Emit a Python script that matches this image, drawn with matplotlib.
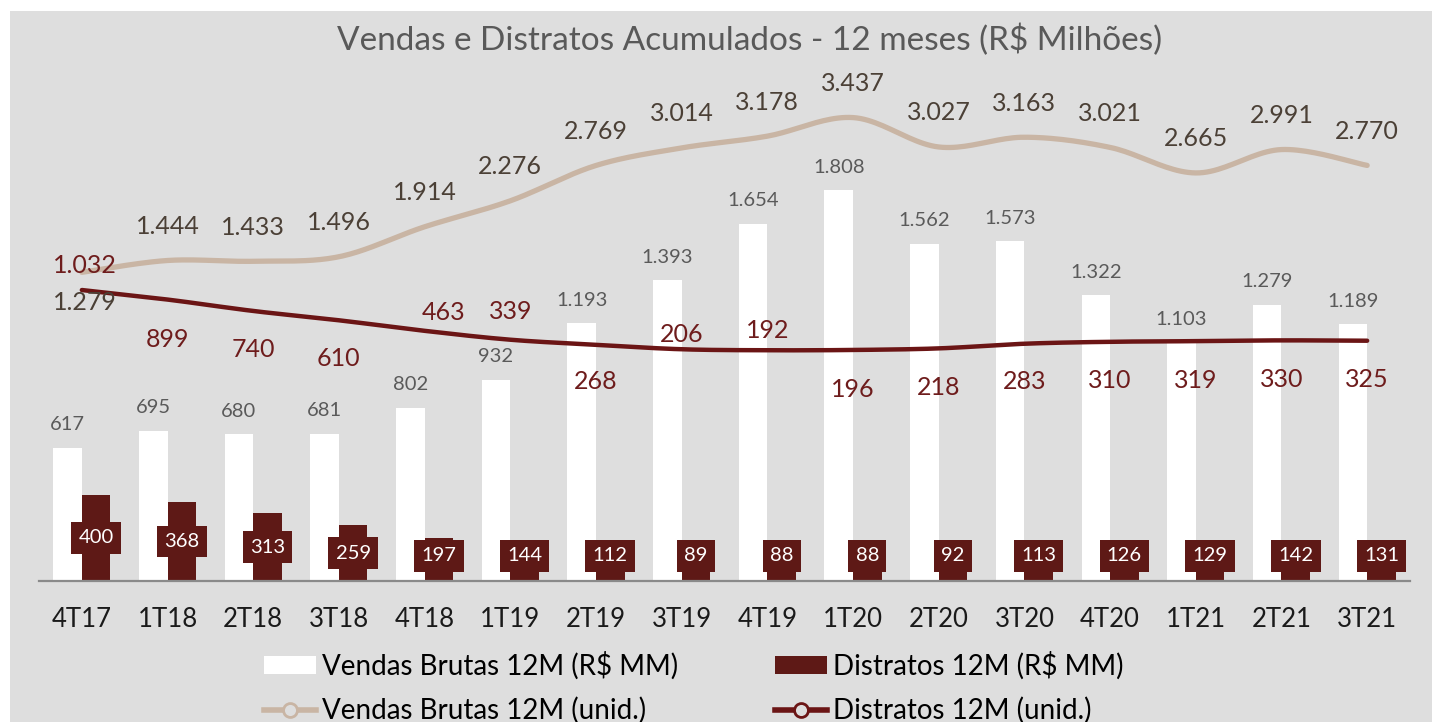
import matplotlib
matplotlib.use('Agg')
import matplotlib.pyplot as plt
import numpy as np
from matplotlib.patches import Rectangle, Patch
from matplotlib.lines import Line2D

# ---------------- data ----------------
categories = ['4T17', '1T18', '2T18', '3T18', '4T18', '1T19', '2T19', '3T19',
              '4T19', '1T20', '2T20', '3T20', '4T20', '1T21', '2T21', '3T21']
vendas_mm = [617, 695, 680, 681, 802, 932, 1193, 1393, 1654, 1808, 1562, 1573, 1322, 1103, 1279, 1189]
distratos_mm = [400, 368, 313, 259, 197, 144, 112, 89, 88, 88, 92, 113, 126, 129, 142, 131]
vendas_un = [1279, 1444, 1433, 1496, 1914, 2276, 2769, 3014, 3178, 3437, 3027, 3163, 3021, 2665, 2991, 2770]
distratos_un = [1032, 899, 740, 610, 463, 339, 268, 206, 192, 196, 218, 283, 310, 319, 330, 325]

# label placement (pixel offsets from the line points)
vend_lbl_dy = [-30] + [34] * 15
vend_lbl_dx = [3] + [0] * 15
dist_lbl_dy = [25, -40, -39, -38, 18, 28, -37, 15, 20, -40, -39, -38, -39, -39, -39, -39]
dist_lbl_dx = [3, 0, 0, 0, 19, 0, 0, 0, 0, 0, 0, 0, 0, 0, 0, 0]

# ---------------- style ----------------
FONT = 'Lato'
plt.rcParams['font.family'] = [FONT, 'DejaVu Sans']
BG = '#dedede'
WHITE = '#ffffff'
DARK = '#5e1916'
BEIGE = '#c9b5a4'
DLINE = '#6b1515'
VLBL = '#4b4036'
DLBL = '#6e1c1c'
BARLBL = '#5a5a5a'
TITLE = '#595959'

W, H = 1432, 722
fig = plt.figure(figsize=(W / 100, H / 100), dpi=100, facecolor='white')
fig.add_artist(Rectangle((10 / W, 0), 1, (H - 11) / H, transform=fig.transFigure,
                         facecolor=BG, edgecolor='none', zorder=-10))

ax = fig.add_axes([39 / W, 141 / H, 1371 / W, 521 / H])
ax.patch.set_visible(False)
ax2 = ax.twinx()
ax2.patch.set_visible(False)

x = np.arange(len(categories))
bw = 0.333
ax.bar(x - bw / 2, vendas_mm, width=bw, color=WHITE, zorder=2)
ax.bar(x + bw / 2, distratos_mm, width=bw, color=DARK, zorder=2)
ax.set_xlim(-0.5, len(categories) - 0.5)
ax.set_ylim(0, 2412)
ax2.set_ylim(-3026, 4240)

for a in (ax, ax2):
    for s in ['top', 'left', 'right']:
        a.spines[s].set_visible(False)
    a.set_yticks([])
ax2.spines['bottom'].set_visible(False)
ax.spines['bottom'].set_color('#8a8a8a')
ax.spines['bottom'].set_linewidth(1.6)
ax.set_xticks(x)
ax.set_xticklabels(categories, fontsize=18.5, color='#1a1a1a')
ax.tick_params(axis='x', length=0, pad=19)


def fmt(v):
    return f"{v:,}".replace(',', '.')


# white bar labels
for xi, v in zip(x, vendas_mm):
    ax.annotate(fmt(v), (xi - bw / 2, v), xytext=(0, 23), textcoords='offset pixels',
                ha='center', va='center', fontsize=14.5, color=BARLBL, zorder=5)

# dark bar boxed labels
min_lbl = 116
for xi, v in zip(x, distratos_mm):
    ax.text(xi + bw / 2, max(v / 2, min_lbl), fmt(v), ha='center', va='center',
            fontsize=14.5, color='white', zorder=6,
            bbox=dict(boxstyle='square,pad=0.36', fc=DARK, ec='none'))


def smooth(xs, ys, n=24):
    pts = np.column_stack([xs, ys]).astype(float)
    out = []
    for i in range(len(pts) - 1):
        p0 = pts[i - 1] if i > 0 else pts[i]
        p1, p2 = pts[i], pts[i + 1]
        p3 = pts[i + 2] if i + 2 < len(pts) else pts[i + 1]
        c1 = p1 + (p2 - p0) / 6
        c2 = p2 - (p3 - p1) / 6
        t = np.linspace(0, 1, n)[:, None]
        seg = (1 - t) ** 3 * p1 + 3 * (1 - t) ** 2 * t * c1 + 3 * (1 - t) * t ** 2 * c2 + t ** 3 * p2
        out.append(seg if i == 0 else seg[1:])
    return np.vstack(out)


sv = smooth(x, vendas_un)
sd = smooth(x, distratos_un)
ax2.plot(sv[:, 0], sv[:, 1], color=BEIGE, lw=3.8, solid_capstyle='round', zorder=3)
ax2.plot(sd[:, 0], sd[:, 1], color=DLINE, lw=3.2, solid_capstyle='round', zorder=3)

for xi, v, dx, dy in zip(x, vendas_un, vend_lbl_dx, vend_lbl_dy):
    ax2.annotate(fmt(v), (xi, v), xytext=(dx, dy), textcoords='offset pixels',
                 ha='center', va='center', fontsize=18, color=VLBL, zorder=7)
for xi, v, dx, dy in zip(x, distratos_un, dist_lbl_dx, dist_lbl_dy):
    ax2.annotate(fmt(v), (xi, v), xytext=(dx, dy), textcoords='offset pixels',
                 ha='center', va='center', fontsize=18, color=DLBL, zorder=7)

fig.text(750 / W, 1 - 40 / H, 'Vendas e Distratos Acumulados - 12 meses (R$ Milhões)',
         ha='center', va='center', fontsize=24, color=TITLE)

handles = [
    Patch(facecolor=WHITE, edgecolor='none'),
    Line2D([], [], color=BEIGE, lw=4, marker='o', markersize=10, markerfacecolor=BG,
           markeredgecolor=BEIGE, markeredgewidth=2),
    Patch(facecolor=DARK, edgecolor='none'),
    Line2D([], [], color=DLINE, lw=4, marker='o', markersize=10, markerfacecolor=BG,
           markeredgecolor=DLINE, markeredgewidth=2),
]
labels = ['Vendas Brutas 12M (R$ MM)', 'Vendas Brutas 12M (unid.)',
          'Distratos 12M (R$ MM)', 'Distratos 12M (unid.)']
fig.legend(handles, labels, ncol=2, loc='center', bbox_to_anchor=(694 / W, 1 - 688 / H),
           frameon=False, fontsize=20, handlelength=1.87, handleheight=0.6,
           handletextpad=0.22, columnspacing=3.5, labelspacing=0.62,
           borderpad=0, borderaxespad=0)

fig.savefig('out.png', dpi=100, facecolor='white')
